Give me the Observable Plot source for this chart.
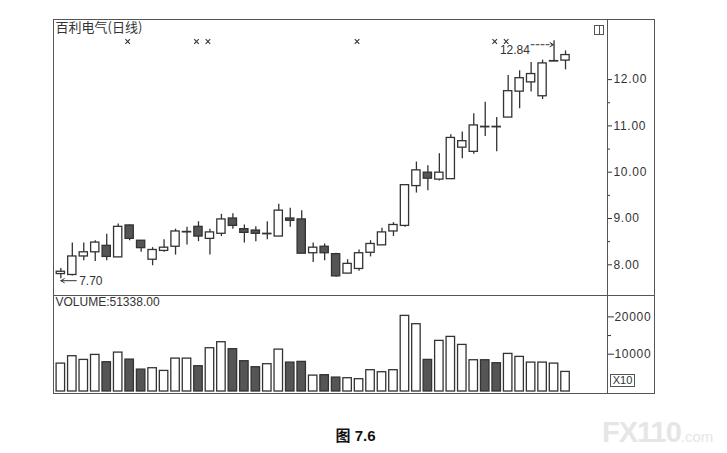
<!DOCTYPE html>
<html><head><meta charset="utf-8">
<script src="https://cdn.jsdelivr.net/npm/d3@7"></script>
<script src="https://cdn.jsdelivr.net/npm/@observablehq/plot@0.6"></script>
<style>
html,body{margin:0;padding:0;background:#fff;}
#wrap{position:relative;width:727px;height:453px;overflow:hidden;font-family:"Liberation Sans",Arial,sans-serif;color:#333;}
#wrap svg{background:transparent !important;position:absolute;left:0;overflow:visible;}
#wrap svg [aria-label="y-axis tick label"] text{letter-spacing:0.7px;}
.ln{position:absolute;background:#555;}
</style></head><body><div id="wrap"></div>
<script>
// ---- data ----
const opens  = [7.80,7.78,8.18,8.27,8.41,8.16,8.85,8.52,8.11,8.30,8.39,8.70,8.82,8.56,8.67,9.00,8.77,8.74,8.66,8.61,9.00,8.98,8.25,8.39,8.23,7.81,7.91,8.26,8.42,8.72,8.84,9.70,9.99,9.84,9.85,10.53,10.44,10.98,10.98,11.18,11.74,11.94,11.64,12.39,12.41];
const highs  = [7.92,8.47,8.47,8.52,8.66,8.88,8.86,8.52,8.37,8.54,8.77,8.81,8.93,8.77,9.09,9.10,8.86,8.82,8.93,9.31,9.22,9.17,8.47,8.45,8.25,8.11,8.32,8.52,8.79,8.91,9.72,10.22,10.14,10.40,10.81,10.87,11.26,11.51,11.18,12.09,12.19,12.37,12.42,12.84,12.62];
const lows   = [7.70,7.76,8.09,8.07,8.09,8.16,8.52,8.27,7.98,8.27,8.21,8.43,8.50,8.21,8.61,8.77,8.47,8.50,8.54,8.61,8.81,8.24,8.05,8.09,7.73,7.81,7.86,8.17,8.42,8.61,8.81,9.55,9.60,9.81,9.85,10.29,10.39,10.77,10.44,11.18,11.37,11.73,11.57,12.39,12.21];
const closes = [7.85,8.18,8.27,8.48,8.17,8.82,8.56,8.36,8.32,8.37,8.72,8.71,8.61,8.70,8.98,8.84,8.69,8.67,8.67,9.17,8.95,8.24,8.37,8.25,7.75,8.02,8.25,8.45,8.70,8.86,9.72,10.04,9.86,9.99,10.74,10.67,11.01,10.97,10.97,11.75,12.03,12.12,12.35,12.40,12.53];
const volumes = [7480,9460,8470,9810,7850,10430,8550,5870,6240,5520,8820,8820,6780,11600,13210,11340,8120,6510,7320,11230,7750,7940,4260,4370,3730,3560,3300,5710,5170,5710,20270,18040,8470,13570,14640,12490,8380,8380,7580,10080,9280,7750,7750,7480,5250];
const markerDays = [6,12,13,26,38,39];
const priceTicks = [8,9,10,11,12];
const priceMinor = [8.5,9.5,10.5,11.5];
const volTicks = [10000,20000];
const volMinor = [15000];
const titleText = "百利电气(日线)";
const volumeLabel = "VOLUME:51338.00";
const captionText = "图 7.6";

const data = opens.map((o,i)=>({i, open:o, high:highs[i], low:lows[i], close:closes[i], vol:volumes[i], up: closes[i] >= o}));
const W = 727, L = 53, R = 607, RB = 654, T = 19, MID = 295, B = 393;
const xDomain = [-0.64, 47.66];
const upFill = "#fff", downFill = "#555", ink = "#333";
const hw = 0.36;

const wrap = document.getElementById("wrap");

// ---- price panel ----
const hi = data.reduce((a,b)=> b.high > a.high ? b : a);
const lo = data.reduce((a,b)=> b.low < a.low ? b : a);
const price = Plot.plot({
  width: W, height: MID + 1,
  marginLeft: L, marginRight: W - R, marginTop: T, marginBottom: 1,
  x: {domain: xDomain, axis: null, label: null},
  y: {domain: [7.337, 13.298], label: null},
  style: {fontFamily: '"Liberation Sans", Arial, sans-serif', color: ink, fontSize: "12px"},
  marks: [
    Plot.ruleX(data, {x: "i", y1: "low", y2: "high", stroke: ink, strokeWidth: 1.3}),
    Plot.rect(data, {x1: d=>d.i-hw, x2: d=>d.i+hw, y1: d=>Math.min(d.open,d.close), y2: d=>Math.max(d.open,d.close),
      fill: d=>d.up?upFill:downFill, stroke: ink, strokeWidth: 1.3}),
    Plot.axisY({anchor: "right", ticks: priceTicks, tickFormat: d3.format(".2f"), tickSize: 4, tickPadding: 2, fontSize: 12, label: null}),
    Plot.axisY({anchor: "right", ticks: priceMinor, tickSize: 2, text: null, label: null}),
    Plot.text([titleText], {frameAnchor: "top-left", dx: 2, dy: 3, fontSize: 13, fontFamily: '"Noto Sans CJK SC", sans-serif', fill: ink}),
    Plot.dot(markerDays, {x: d=>d, frameAnchor: "top", dy: 22, dx: -2, symbol: "times", r: 2.2, stroke: ink, strokeWidth: 1.1}),
    Plot.arrow([lo], {x1: d=>d.i+1.35, x2: d=>d.i, y1: "low", y2: "low", dy: 2, stroke: ink, strokeWidth: 1, headLength: 6}),
    Plot.text([lo], {x: d=>d.i+1.6, y: "low", dy: 2, text: d=>d3.format(".2f")(d.low), textAnchor: "start", fontSize: 12, fill: ink}),
    Plot.arrow([hi], {x1: d=>d.i-2.0, x2: d=>d.i-0.05, y1: "high", y2: "high", dy: 4, stroke: ink, strokeWidth: 1, strokeDasharray: "3,2", headLength: 6}),
    Plot.text([hi], {x: d=>d.i-2.1, y: "high", dy: 9, text: d=>d3.format(".2f")(d.high), textAnchor: "end", fontSize: 12, fill: ink})
  ]
});
price.style.top = "0px";
wrap.appendChild(price);

// ---- volume panel ----
const vol = Plot.plot({
  width: W, height: 100,
  marginLeft: L, marginRight: W - R, marginTop: 0, marginBottom: 4,
  x: {domain: xDomain, axis: null, label: null},
  y: {domain: [0, 25737], label: null},
  style: {fontFamily: '"Liberation Sans", Arial, sans-serif', color: ink, fontSize: "12px"},
  marks: [
    Plot.rect(data, {x1: d=>d.i-0.37, x2: d=>d.i+0.37, y1: 0, y2: "vol", fill: d=>d.up?upFill:downFill, stroke: ink, strokeWidth: 1.3}),
    Plot.axisY({anchor: "right", ticks: volTicks, tickFormat: d3.format("d"), tickSize: 6, tickPadding: 1, fontSize: 12, label: null}),
    Plot.axisY({anchor: "right", ticks: volMinor, tickSize: 3, text: null, label: null}),
    Plot.text([volumeLabel], {frameAnchor: "top-left", dx: 2, dy: 2, fontSize: 12, fill: ink})
  ]
});
vol.style.top = MID + "px";
wrap.appendChild(vol);

// ---- frame lines / decorations ----
function line(x,y,w,h){const d=document.createElement("div");d.className="ln";Object.assign(d.style,{left:x+"px",top:y+"px",width:w+"px",height:h+"px"});wrap.appendChild(d);}
line(L, T, RB-L+1, 1); line(L, B, RB-L+1, 1); line(L, T, 1, B-T+1); line(RB, T, 1, B-T+1);
line(R, T, 1, B-T+1); line(L, MID, RB-L+1, 1);
function box(x,y,w,h,html,css){const d=document.createElement("div");Object.assign(d.style,{position:"absolute",left:x+"px",top:y+"px",width:w+"px",height:h+"px"},css||{});d.innerHTML=html||"";wrap.appendChild(d);return d;}
box(610, 374, 23, 11, "X10", {border:"1px solid #555", fontSize:"11px", lineHeight:"11px", textAlign:"center", color:ink});
box(594, 25, 8, 8, "", {border:"1px solid #555"});
box(599, 25, 1, 10, "", {background:"#555"});
box(0, 426, 727, 20, captionText, {textAlign:"center", fontWeight:"bold", fontSize:"15px", lineHeight:"20px", color:"#111", left:"-8px", fontFamily:'"Liberation Sans", "Noto Sans CJK SC", sans-serif'});
box(602, 416, 125, 32, '<span style="font-size:29px;font-weight:bold;letter-spacing:-1px">FX110</span><span style="font-size:15px">.com</span>', {color:"#e6e6e6", whiteSpace:"nowrap", lineHeight:"32px"});
</script></body></html>
